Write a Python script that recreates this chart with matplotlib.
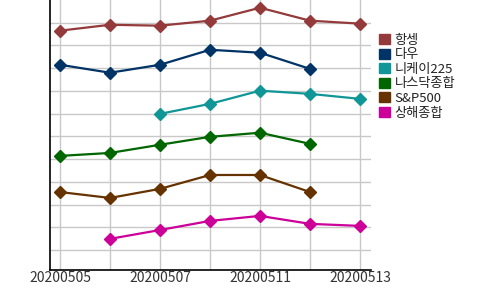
import numpy as np
import matplotlib.pyplot as plt

plt.rcParams['font.family'] = ['Noto Sans CJK KR', 'DejaVu Sans']

# Dates (categorical x) and index values
dates = ['20200505', '20200506', '20200507', '20200508', '20200511', '20200512', '20200513']
hangseng = [10.65, 10.91, 10.87, 11.09, 11.66, 11.09, 10.96]
dow = [9.15, 8.80, 9.15, 9.81, 9.68, 8.97, np.nan]
nikkei = [np.nan, np.nan, 6.99, 7.43, 8.01, 7.87, 7.65]
nasdaq = [5.14, 5.27, 5.63, 5.98, 6.16, 5.67, np.nan]
sp500 = [3.55, 3.29, 3.69, 4.30, 4.30, 3.55, np.nan]
shanghai = [np.nan, 1.49, 1.88, 2.28, 2.50, 2.15, 2.06]

names = ['항셍', '다우', '니케이225', '나스닥종합', 'S&P500', '상해종합']
series = [hangseng, dow, nikkei, nasdaq, sp500, shanghai]
colors = ['#943A3A', '#003366', '#109696', '#006600', '#663300', '#CC0099']

fig = plt.figure(figsize=(5, 2.9), dpi=100)
ax = fig.add_axes([0.1, 0.069, 0.642, 0.931])

x = np.arange(len(dates))
for name, vals, c in zip(names, series, colors):
    ax.plot(x, vals, color=c, lw=1.6, marker='D', markersize=6.5, label=name)

ax.set_xlim(-0.2, 6.22)
ax.set_ylim(0.12, 12.0)
ax.set_xticks(x)
ax.set_xticklabels([d if i % 2 == 0 else '' for i, d in enumerate(dates)])
ax.set_yticks(np.arange(1, 12))
ax.set_yticklabels([])
ax.tick_params(axis='both', length=0, labelsize=10, colors='#333333', pad=1)
ax.grid(True, color='#c8c8c8', lw=1)
ax.set_axisbelow(True)
for s in ['top', 'right']:
    ax.spines[s].set_visible(False)
for s in ['left', 'bottom']:
    ax.spines[s].set_color('black')
    ax.spines[s].set_linewidth(1.2)

handles = [plt.Rectangle((0, 0), 1, 1, color=c) for c in colors]
ax.legend(handles, names, loc='upper left', bbox_to_anchor=(1.01, 0.895),
          frameon=False, fontsize=9.5, handlelength=0.8, handleheight=0.8,
          handletextpad=0.35, labelspacing=0.12, borderaxespad=0,
          labelcolor='#222222')

fig.savefig('out.png', dpi=100)
